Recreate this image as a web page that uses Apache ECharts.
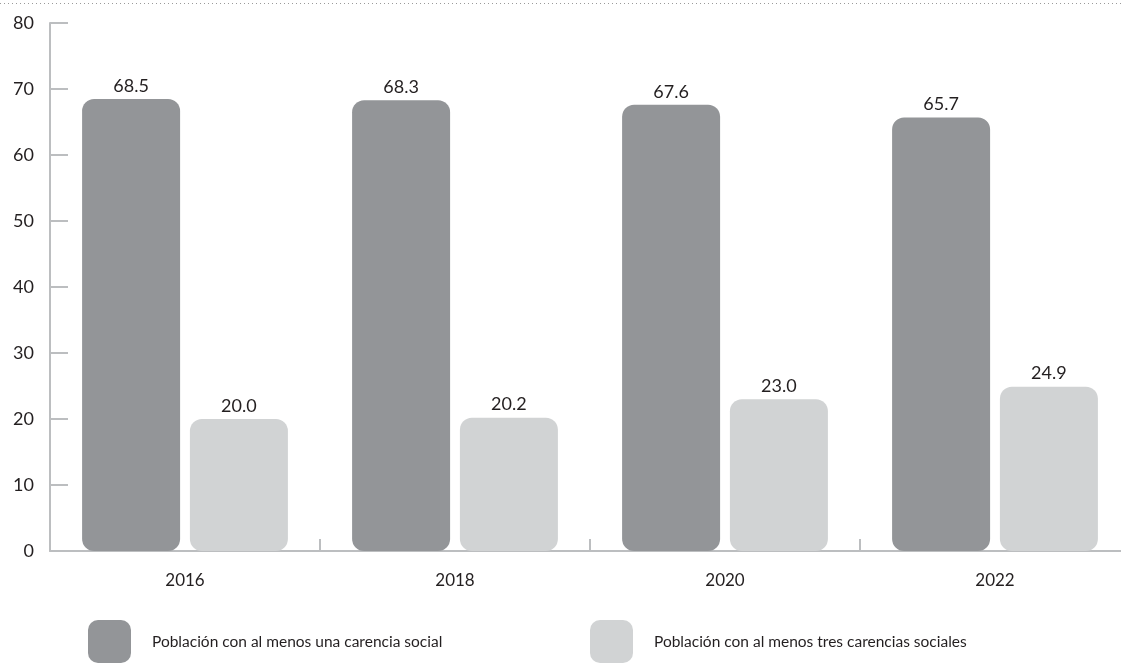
<!DOCTYPE html>
<html>
<head>
<meta charset="utf-8">
<style>
  html, body { margin: 0; padding: 0; background: #ffffff; }
  #chart { width: 1121px; height: 665px; }
</style>
<script src="https://cdn.jsdelivr.net/npm/echarts@6/dist/echarts.min.js"></script>
</head>
<body>
<div id="chart"></div>
<script>
// Years shown along the category axis
const years = ['2016', '2018', '2020', '2022'];
// Percent of population with at least one social deprivation
const unaCarencia = [68.5, 68.3, 67.6, 65.7];
// Percent of population with at least three social deprivations
const tresCarencias = [20.0, 20.2, 23.0, 24.9];
const seriesNames = [
  'Población con al menos una carencia social',
  'Población con al menos tres carencias sociales'
];

const FONT = 'Lato, "Open Sans", sans-serif';
const TEXT = '#231f20';
const AXIS = '#bcbec0';
const DARK = '#939598';
const LIGHT = '#d1d3d4';

// Rounded square used as legend marker
const roundSquare = 'path://M10,0 H33 A10,10 0 0 1 43,10 V33 A10,10 0 0 1 33,43 H10 A10,10 0 0 1 0,33 V10 A10,10 0 0 1 10,0 Z';

const chart = echarts.init(document.getElementById('chart'), null, { renderer: 'canvas' });

const labelStyle = {
  show: true,
  position: 'top',
  distance: 4,
  color: TEXT,
  fontFamily: FONT,
  fontSize: 18,
  formatter: p => p.value.toFixed(1)
};

const legendText = { color: TEXT, fontFamily: FONT, fontSize: 15.5, padding: [8, 0, 0, 16] };

chart.setOption({
  animation: false,
  backgroundColor: '#ffffff',
  grid: { left: 50, top: 23, width: 1080, bottom: 114, outerBoundsMode: 'none', containLabel: false },
  xAxis: {
    type: 'category',
    data: years,
    boundaryGap: true,
    axisLine: { lineStyle: { color: AXIS, width: 2 } },
    axisTick: { show: true, inside: true, length: 12, lineStyle: { color: AXIS, width: 2 } },
    axisLabel: { color: TEXT, fontFamily: FONT, fontSize: 17, margin: 21 }
  },
  yAxis: {
    type: 'value',
    min: 0,
    max: 80,
    interval: 10,
    axisLine: { show: true, lineStyle: { color: AXIS, width: 2 } },
    axisTick: { show: true, inside: true, length: 18, lineStyle: { color: AXIS, width: 2 } },
    axisLabel: { color: TEXT, fontFamily: FONT, fontSize: 18, margin: 16 },
    splitLine: { show: false }
  },
  legend: [
    {
      data: [seriesNames[0]],
      left: 88, top: 620, padding: 0,
      icon: roundSquare,
      itemWidth: 43, itemHeight: 43,
      textStyle: legendText,
      selectedMode: false
    },
    {
      data: [seriesNames[1]],
      left: 590, top: 620, padding: 0,
      icon: roundSquare,
      itemWidth: 43, itemHeight: 43,
      textStyle: legendText,
      selectedMode: false
    }
  ],
  series: [
    {
      name: seriesNames[0],
      type: 'bar',
      data: unaCarencia,
      barWidth: 98,
      barGap: '10%',
      itemStyle: { color: DARK, borderRadius: 12 },
      label: labelStyle
    },
    {
      name: seriesNames[1],
      type: 'bar',
      data: tresCarencias,
      barWidth: 98,
      itemStyle: { color: LIGHT, borderRadius: 12 },
      label: labelStyle
    }
  ],
  graphic: [
    {
      type: 'line',
      shape: { x1: 0, y1: 3.5, x2: 1121, y2: 3.5 },
      style: { stroke: '#9a9a9a', lineWidth: 1, lineDash: [1, 3] },
      silent: true
    }
  ]
});
</script>
</body>
</html>
